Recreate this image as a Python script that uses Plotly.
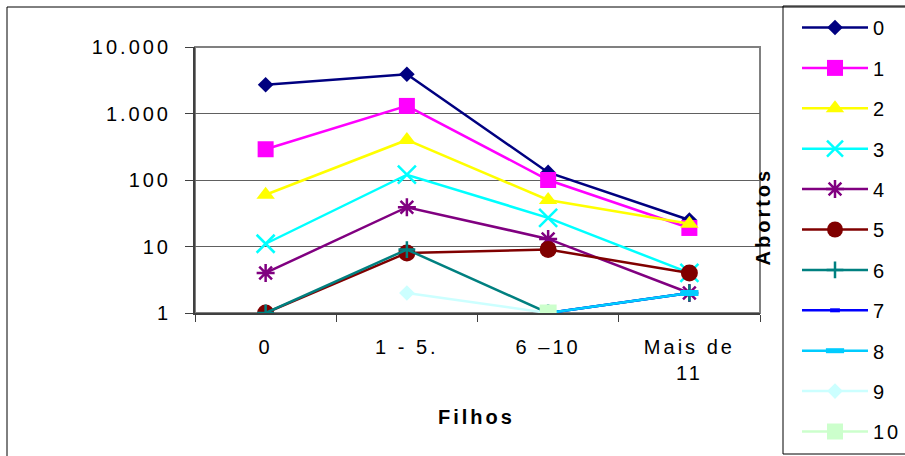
import plotly.graph_objects as go

categories = ["0", "1 - 5.", "6 –10", "Mais de<br>11"]
series_names = ["0", "1", "2", "3", "4", "5", "6", "7", "8", "9", "10"]
s0 = [2700, 3900, 130, 25]
s1 = [290, 1300, 100, 19]
s2 = [60, 400, 50, 22]
s3 = [11, 120, 27, 4]
s4 = [4, 39, 13, 2]
s5 = [1, 8, 9, 4]
s6 = [1, 9, 1, 2]
s7 = [None, None, 1, 2]
s8 = [None, None, 1, 2]
s9 = [None, 2, 1, None]
s10 = [None, None, 1, None]
y_tickvals = [1, 10, 100, 1000, 10000]
y_ticktext = ["1", "10", "100", "1.000", "10.000"]

values = [s0, s1, s2, s3, s4, s5, s6, s7, s8, s9, s10]
colors = ["#000080", "#FF00FF", "#FFFF00", "#00FFFF", "#800080", "#800000",
          "#008080", "#0000FF", "#00CCFF", "#CCFFFF", "#CCFFCC"]
symbols = ["diamond", "square", "triangle-up", "x-thin", "asterisk", "circle",
           "cross-thin", "line-ew", "line-ew", "diamond", "square"]
sizes = [12, 16, 16, 18, 15, 17, 12, 7, 13, 12, 17]
open_widths = {3: 2.5, 4: 2.5, 6: 2.5, 7: 4, 8: 6}

FONT = "Liberation Sans, Arial, sans-serif"

fig = go.Figure()
for i, (name, vals) in enumerate(zip(series_names, values)):
    c = colors[i]
    if i in open_widths:
        mline = dict(color=c, width=open_widths[i])
    else:
        mline = dict(width=0)
    fig.add_trace(go.Scatter(
        x=categories, y=vals, name=name, mode="lines+markers",
        line=dict(color=c, width=2.5),
        marker=dict(symbol=symbols[i], size=sizes[i], color=c, line=mline),
        legendgroup=name, connectgaps=False,
    ))

W, H = 905, 456
L, R, T, B = 195, 760, 47, 313
def px(x):
    return (x - L) / (R - L)
def py(y):
    return (B - y) / (B - T)

shapes = [
    # outer chart frame
    dict(type="rect", xref="paper", yref="paper", x0=px(7), x1=px(1100), y0=py(700), y1=py(7),
         line=dict(color="#000000", width=1), fillcolor="rgba(0,0,0,0)", layer="below"),
    # legend frame
    dict(type="rect", xref="paper", yref="paper", x0=px(783), x1=px(1100), y0=py(454), y1=py(6),
         line=dict(color="#000000", width=1), fillcolor="rgba(0,0,0,0)", layer="below"),
    # plot area border (gray)
    dict(type="rect", xref="paper", yref="paper", x0=0, x1=1, y0=0, y1=1,
         line=dict(color="#808080", width=2), fillcolor="rgba(0,0,0,0)", layer="below"),
]

fig.update_layout(
    width=W, height=H,
    margin=dict(l=L, r=W - R, t=T, b=H - B, pad=0, autoexpand=False),
    paper_bgcolor="white", plot_bgcolor="white",
    font=dict(family=FONT, size=20, color="black"),
    showlegend=True,
    legend=dict(xref="container", yref="container",
                x=797 / W, y=1 - 8 / H, xanchor="left", yanchor="top",
                bgcolor="rgba(0,0,0,0)", borderwidth=0,
                tracegroupgap=11.4, traceorder="grouped",
                font=dict(family=FONT, size=20, color="black"),
                itemwidth=66, maxheight=1000),
    shapes=shapes,
    annotations=[
        dict(text="<b>Filhos</b>", xref="paper", yref="paper", x=px(476), y=py(417),
             showarrow=False, xanchor="center", yanchor="middle",
             font=dict(family=FONT, size=20, color="black")),
        dict(text="<b>Abortos</b>", xref="paper", yref="paper", x=px(763), y=py(217),
             showarrow=False, xanchor="center", yanchor="middle", textangle=-90,
             font=dict(family=FONT, size=20, color="black")),
    ],
)

fig.update_xaxes(
    type="category", range=[-0.5, 3.5],
    showline=True, linecolor="#404040", linewidth=2,
    ticks="outside", tickson="boundaries", ticklen=7, tickcolor="#404040", tickwidth=1,
    showgrid=False, zeroline=False, ticklabelstandoff=15,
    tickfont=dict(family=FONT, size=20, color="black"),
)
fig.update_yaxes(
    type="log", range=[0, 4],
    tickvals=y_tickvals, ticktext=y_ticktext,
    showline=True, linecolor="#404040", linewidth=2,
    ticks="outside", ticklen=8, tickcolor="#404040", tickwidth=1,
    showgrid=True, gridcolor="#606060", gridwidth=1, zeroline=False,
    ticklabelstandoff=10,
    tickfont=dict(family=FONT, size=20, color="black"),
)

post = ("var s=document.createElement('style');"
        "s.textContent='.xtick text,.ytick text,.legendtext,.annotation-text{letter-spacing:3px}';"
        "document.head.appendChild(s);")
fig.write_html("out.html", post_script=post)
